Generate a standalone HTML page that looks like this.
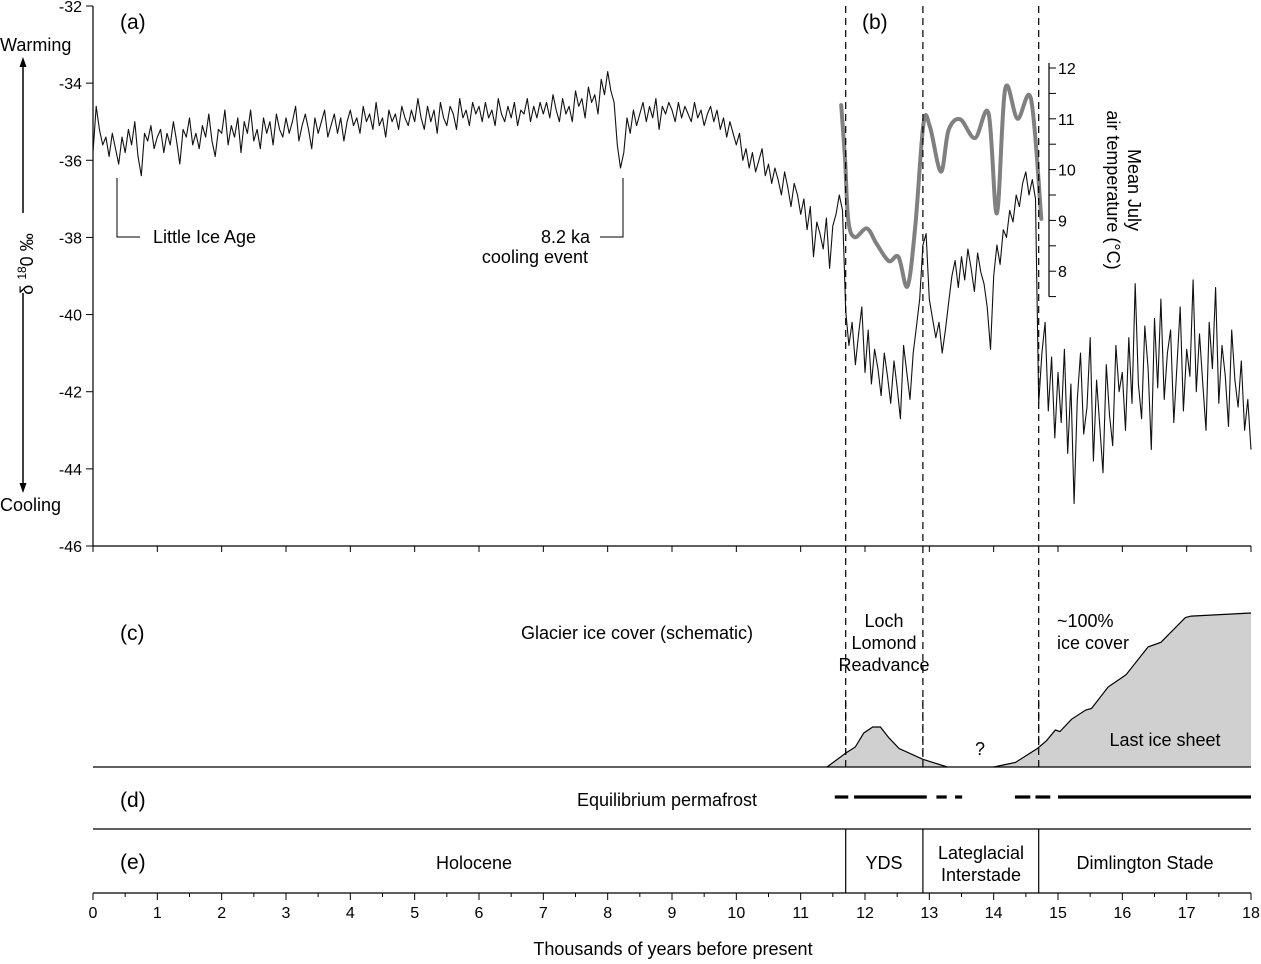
<!DOCTYPE html>
<html><head><meta charset="utf-8"><style>
body{margin:0;background:#fff}
svg{display:block;font-family:"Liberation Sans",Arial,sans-serif}
</style></head><body>
<svg id="chart" width="1261" height="964" viewBox="0 0 1261 964"></svg>
<script>
// ---- data ----
const kStart = 0, kStep = 0.05;
const d18O = [
-35.8,-34.6,-35.2,-35.6,-35.4,-35.9,-35.3,-35.7,-36.1,-35.4,-35.8,-35.2,-35.6,-35.0,-35.9,-36.4,-35.3,-35.5,-35.1,-35.7,
-35.4,-35.2,-35.8,-35.3,-35.6,-35.0,-35.5,-36.1,-35.2,-35.4,-34.9,-35.6,-35.3,-35.7,-35.1,-35.4,-34.8,-35.5,-35.9,-35.2,
-35.3,-34.7,-35.6,-35.1,-35.4,-34.9,-35.8,-35.0,-35.3,-34.7,-35.5,-35.2,-35.7,-34.9,-35.3,-35.0,-35.6,-34.8,-35.2,-35.4,
-34.9,-35.3,-35.0,-34.6,-35.5,-35.1,-34.8,-35.2,-35.7,-34.9,-35.3,-35.0,-34.7,-35.4,-35.1,-34.8,-35.3,-34.9,-35.5,-35.0,
-34.7,-35.1,-34.9,-35.3,-34.6,-35.0,-34.8,-35.2,-34.5,-35.1,-34.9,-35.4,-34.7,-35.0,-34.8,-35.2,-34.6,-34.9,-35.1,-34.7,
-35.0,-34.4,-34.9,-35.2,-34.6,-35.0,-34.7,-35.3,-34.5,-34.9,-35.1,-34.6,-34.8,-35.2,-34.4,-34.9,-34.7,-35.1,-34.5,-34.8,
-34.6,-35.0,-34.5,-34.9,-34.7,-35.1,-34.4,-34.8,-35.0,-34.6,-34.9,-34.5,-35.1,-34.7,-34.8,-34.4,-35.0,-34.6,-34.9,-34.5,
-34.8,-34.5,-34.9,-34.3,-34.7,-35.0,-34.4,-34.8,-34.6,-35.0,-34.2,-34.6,-34.4,-34.9,-34.1,-34.5,-34.3,-34.8,-33.9,-34.3,
-33.7,-34.2,-34.5,-35.6,-36.2,-35.8,-34.9,-35.3,-34.7,-35.1,-34.8,-34.5,-35.0,-34.6,-34.9,-34.4,-35.2,-34.6,-34.8,-34.5,
-34.7,-35.0,-34.5,-34.9,-34.6,-34.8,-35.0,-34.5,-34.9,-34.7,-35.1,-34.8,-34.6,-35.0,-34.7,-35.2,-34.9,-35.4,-35.0,-35.3,
-35.6,-35.3,-36.0,-35.7,-36.2,-35.8,-36.3,-36.0,-35.7,-36.4,-36.1,-36.6,-36.2,-36.5,-36.9,-36.3,-36.7,-37.2,-36.6,-36.9,
-37.4,-37.0,-37.8,-37.2,-38.5,-37.6,-37.9,-38.3,-37.5,-38.8,-37.7,-37.4,-36.9,-37.3,-39.9,-40.8,-40.2,-41.3,-40.5,-39.8,
-41.5,-40.4,-41.8,-40.9,-41.4,-42.1,-41.0,-41.6,-42.3,-41.2,-41.9,-42.7,-40.8,-41.5,-42.2,-41.0,-40.3,-39.6,-38.2,-37.9,
-39.6,-40.1,-40.6,-40.2,-41.0,-40.4,-39.7,-39.0,-38.6,-39.3,-38.5,-39.1,-38.3,-38.8,-39.4,-38.4,-38.9,-39.2,-39.8,-40.9,
-39.0,-38.2,-38.7,-37.8,-38.0,-37.3,-37.6,-36.9,-37.2,-36.6,-36.3,-36.9,-36.5,-37.0,-42.3,-41.0,-40.2,-42.5,-41.1,-43.2,
-41.5,-42.8,-40.9,-43.6,-41.8,-44.9,-42.2,-41.0,-43.1,-42.4,-40.6,-43.8,-41.7,-42.9,-44.1,-41.3,-42.6,-43.4,-40.8,-42.0,
-41.5,-43.0,-40.6,-42.3,-39.2,-41.8,-42.7,-40.3,-41.4,-43.5,-40.1,-41.9,-39.6,-42.2,-41.0,-40.4,-42.8,-41.3,-39.8,-42.5,
-40.9,-41.6,-39.1,-42.0,-40.5,-41.8,-43.0,-40.2,-41.4,-39.3,-42.3,-40.8,-41.6,-42.9,-40.4,-41.7,-42.4,-41.2,-43.0,-42.2,
-43.5];
const tempAge = [11.63,11.69,11.74,11.84,12.03,12.18,12.37,12.52,12.66,12.78,12.91,13.01,13.18,13.30,13.48,13.71,13.92,14.05,14.18,14.37,14.58,14.74];
const tempVal = [11.27,10.19,9.0,8.67,8.84,8.54,8.20,8.28,7.70,8.87,10.91,10.84,9.96,10.78,10.99,10.62,11.11,9.14,11.59,11.0,11.39,9.03];
const llrAge = [11.41,11.7,11.85,11.98,12.12,12.24,12.37,12.53,12.9,13.28];
const llrIce = [0,0.09,0.13,0.22,0.26,0.26,0.19,0.12,0.05,0];
const sheetAge = [14.0,14.34,14.68,14.82,14.96,15.03,15.21,15.43,15.52,15.78,15.99,16.06,16.4,16.6,16.98,17.07,18.0];
const sheetIce = [0,0.03,0.12,0.17,0.24,0.23,0.31,0.37,0.38,0.52,0.58,0.6,0.78,0.81,0.97,0.98,1.0];
const pfStart = [11.53,11.83,13.11,13.4,14.33,14.65,15.0];
const pfEnd   = [11.74,12.96,13.27,13.51,14.57,14.88,18.0];
const boundaries = [11.7,12.9,14.7];
const leftTicks = [-32,-34,-36,-38,-40,-42,-44,-46];
const rightTicks = [12,11,10,9,8];
const xTicks = [0,1,2,3,4,5,6,7,8,9,10,11,12,13,14,15,16,17,18];

// ---- scales ----
const X = k => 93 + (k - 0) * (1158 / 18);
const Y = v => 6 + (-32 - v) * (540 / 14);
const T = t => 68 + (12 - t) * 50.8;
const ICE_BASE = 767, ICE_H = 154;
const I = f => ICE_BASE - f * ICE_H;

const svg = document.getElementById('chart');
const NS = 'http://www.w3.org/2000/svg';
function mk(tag, attrs, parent) {
  const el = document.createElementNS(NS, tag);
  for (const a in attrs) el.setAttribute(a, attrs[a]);
  (parent || svg).appendChild(el);
  return el;
}
function txt(x, y, s, size, anchor, parent) {
  const t = mk('text', {x: x, y: y, 'font-size': size, 'text-anchor': anchor || 'start', fill: '#000'}, parent);
  t.textContent = s;
  return t;
}

// left axis
const la = mk('g', {});


mk('line', {x1: 93, y1: 6, x2: 93, y2: 546, stroke: '#000', 'stroke-width': 1.2}, la);
leftTicks.forEach(v => {
  mk('line', {x1: 86, y1: Y(v), x2: 93, y2: Y(v), stroke: '#000'}, la);
  txt(82, Y(v) + 6, String(v), 16, 'end', la);
});
// top panel bottom axis
const ta = mk('g', {});


mk('line', {x1: 93, y1: 546, x2: 1251, y2: 546, stroke: '#000', 'stroke-width': 1.2}, ta);
xTicks.forEach(k => mk('line', {x1: X(k), y1: 546, x2: X(k), y2: 552, stroke: '#000'}, ta));

// left axis title + arrows
const lt = mk('g', {});


const yt = mk('text', {x: 0, y: 0, 'font-size': 18, 'text-anchor': 'middle', transform: 'translate(33,264) rotate(-90)'}, lt);
yt.innerHTML = 'δ <tspan font-size="12" dy="-7">18</tspan><tspan dy="7">0 ‰</tspan>';
mk('line', {x1: 23, y1: 213, x2: 23, y2: 66, stroke: '#000', 'stroke-width': 1.5}, lt);
mk('polygon', {points: '23,57 19.5,67 26.5,67', fill: '#000'}, lt);
mk('line', {x1: 23, y1: 293, x2: 23, y2: 484, stroke: '#000', 'stroke-width': 1.5}, lt);
mk('polygon', {points: '23,493 19.5,483 26.5,483', fill: '#000'}, lt);
txt(0, 51, 'Warming', 18, 'start', lt);
txt(0, 511, 'Cooling', 18, 'start', lt);

// d18O series
let d = '';
d18O.forEach((v, i) => { d += (i ? 'L' : 'M') + X(kStart + i * kStep).toFixed(1) + ',' + Y(v).toFixed(1); });
const s1 = mk('path', {d: d, fill: 'none', stroke: '#111', 'stroke-width': 1.1, 'stroke-linejoin': 'round'});



// right temperature axis
const ra = mk('g', {});


mk('line', {x1: 1049, y1: T(12.1), x2: 1049, y2: T(7.5), stroke: '#000', 'stroke-width': 1.2}, ra);
for (let t = 7.5; t <= 12; t += 0.5) mk('line', {x1: 1049, y1: T(t), x2: 1056, y2: T(t), stroke: '#000'}, ra);
rightTicks.forEach(t => txt(1058, T(t) + 6, String(t), 16, 'start', ra));
const rt = mk('text', {x: 0, y: 0, 'font-size': 18, 'text-anchor': 'middle', transform: 'translate(1128,190) rotate(90)'}, ra);
rt.innerHTML = '<tspan x="0" dy="0">Mean July</tspan><tspan x="0" dy="21">air temperature (°C)</tspan>';

// temperature curve (smooth)
function smooth(px) {
  let s = 'M' + px[0][0] + ',' + px[0][1];
  for (let i = 0; i < px.length - 1; i++) {
    const p0 = px[i - 1] || px[i], p1 = px[i], p2 = px[i + 1], p3 = px[i + 2] || p2;
    s += 'C' + (p1[0] + (p2[0] - p0[0]) / 6).toFixed(1) + ',' + (p1[1] + (p2[1] - p0[1]) / 6).toFixed(1) + ' ' +
      (p2[0] - (p3[0] - p1[0]) / 6).toFixed(1) + ',' + (p2[1] - (p3[1] - p1[1]) / 6).toFixed(1) + ' ' + p2[0].toFixed(1) + ',' + p2[1].toFixed(1);
  }
  return s;
}
const tpx = tempAge.map((a, i) => [X(a), T(tempVal[i])]);
const tc = mk('path', {d: smooth(tpx), fill: 'none', stroke: '#808080', 'stroke-width': 4, 'stroke-linejoin': 'round', 'stroke-linecap': 'round'});



// annotations
const an = mk('g', {});


mk('polyline', {points: '117,178 117,237 140,237', fill: 'none', stroke: '#000'}, an);
txt(153, 243, 'Little Ice Age', 18, 'start', an);
mk('polyline', {points: '623,178 623,237 600,237', fill: 'none', stroke: '#000'}, an);
txt(590, 243, '8.2 ka', 18, 'end', an);
txt(588, 263, 'cooling event', 18, 'end', an);

// panel labels
[['(a)', 120, 29], ['(b)', 862, 29], ['(c)', 120, 640], ['(d)', 120, 807], ['(e)', 120, 869]].forEach(p => {
  const t = txt(p[1], p[2], p[0], 21, 'start');
  
  
});

// dashed boundaries
boundaries.forEach(b => {
  const l = mk('line', {x1: X(b), y1: 6, x2: X(b), y2: ICE_BASE, stroke: '#000', 'stroke-width': 1.2, 'stroke-dasharray': '7,5'});
  
  
});

// ice cover panel
function area(ages, fr) {
  let s = 'M' + X(ages[0]) + ',' + ICE_BASE;
  ages.forEach((a, i) => { s += 'L' + X(a).toFixed(1) + ',' + I(fr[i]).toFixed(1); });
  return s + 'L' + X(ages[ages.length - 1]) + ',' + ICE_BASE + 'Z';
}
function line(ages, fr) {
  return ages.map((a, i) => (i ? 'L' : 'M') + X(a).toFixed(1) + ',' + I(fr[i]).toFixed(1)).join('');
}
const llr = mk('g', {});


mk('path', {d: area(llrAge, llrIce), fill: '#d0d0d0'}, llr);
mk('path', {d: line(llrAge, llrIce), fill: 'none', stroke: '#000', 'stroke-width': 1.2}, llr);
const sh = mk('g', {});


mk('path', {d: area(sheetAge, sheetIce), fill: '#d0d0d0'}, sh);
mk('path', {d: line(sheetAge, sheetIce), fill: 'none', stroke: '#000', 'stroke-width': 1.2}, sh);
boundaries.forEach(b => mk('line', {x1: X(b), y1: 700, x2: X(b), y2: ICE_BASE, stroke: '#000', 'stroke-width': 1.2, 'stroke-dasharray': '7,5'}));

const ct = mk('g', {});


txt(637, 639, 'Glacier ice cover (schematic)', 18, 'middle', ct);
txt(884, 627, 'Loch', 18, 'middle', ct);
txt(884, 649, 'Lomond', 18, 'middle', ct);
txt(884, 671, 'Readvance', 18, 'middle', ct);
txt(1057, 627, '~100%', 18, 'start', ct);
txt(1057, 649, 'ice cover', 18, 'start', ct);
txt(1165, 746, 'Last ice sheet', 18, 'middle', ct);
txt(980, 755, '?', 18, 'middle', ct);

mk('line', {x1: 93, y1: ICE_BASE, x2: 1251, y2: ICE_BASE, stroke: '#000', 'stroke-width': 1.2});
mk('line', {x1: 93, y1: 829, x2: 1251, y2: 829, stroke: '#000', 'stroke-width': 1.2});

// permafrost
const pf = mk('g', {});


pfStart.forEach((s, i) => mk('line', {x1: X(s), y1: 797, x2: X(pfEnd[i]), y2: 797, stroke: '#000', 'stroke-width': 3.2}, pf));
txt(667, 806, 'Equilibrium permafrost', 18, 'middle', pf);

// periods
const pe = mk('g', {});


boundaries.forEach(b => mk('line', {x1: X(b), y1: 829, x2: X(b), y2: 893, stroke: '#000', 'stroke-width': 1.2}, pe));
txt(474, 869, 'Holocene', 18, 'middle', pe);
txt(884, 869, 'YDS', 18, 'middle', pe);
txt(981, 859, 'Lateglacial', 18, 'middle', pe);
txt(981, 881, 'Interstade', 18, 'middle', pe);
txt(1145, 869, 'Dimlington Stade', 18, 'middle', pe);

// bottom axis
const ba = mk('g', {});


mk('line', {x1: 93, y1: 893, x2: 1251, y2: 893, stroke: '#000', 'stroke-width': 1.2}, ba);
xTicks.forEach(k => {
  mk('line', {x1: X(k), y1: 893, x2: X(k), y2: 900, stroke: '#000'}, ba);
  txt(X(k), 918, String(k), 16, 'middle', ba);
});
for (let k = 0.5; k < 18; k += 1) mk('line', {x1: X(k), y1: 893, x2: X(k), y2: 897, stroke: '#000'}, ba);
const xt = txt(673, 955, 'Thousands of years before present', 18, 'middle', ba);


</script>
</body></html>
